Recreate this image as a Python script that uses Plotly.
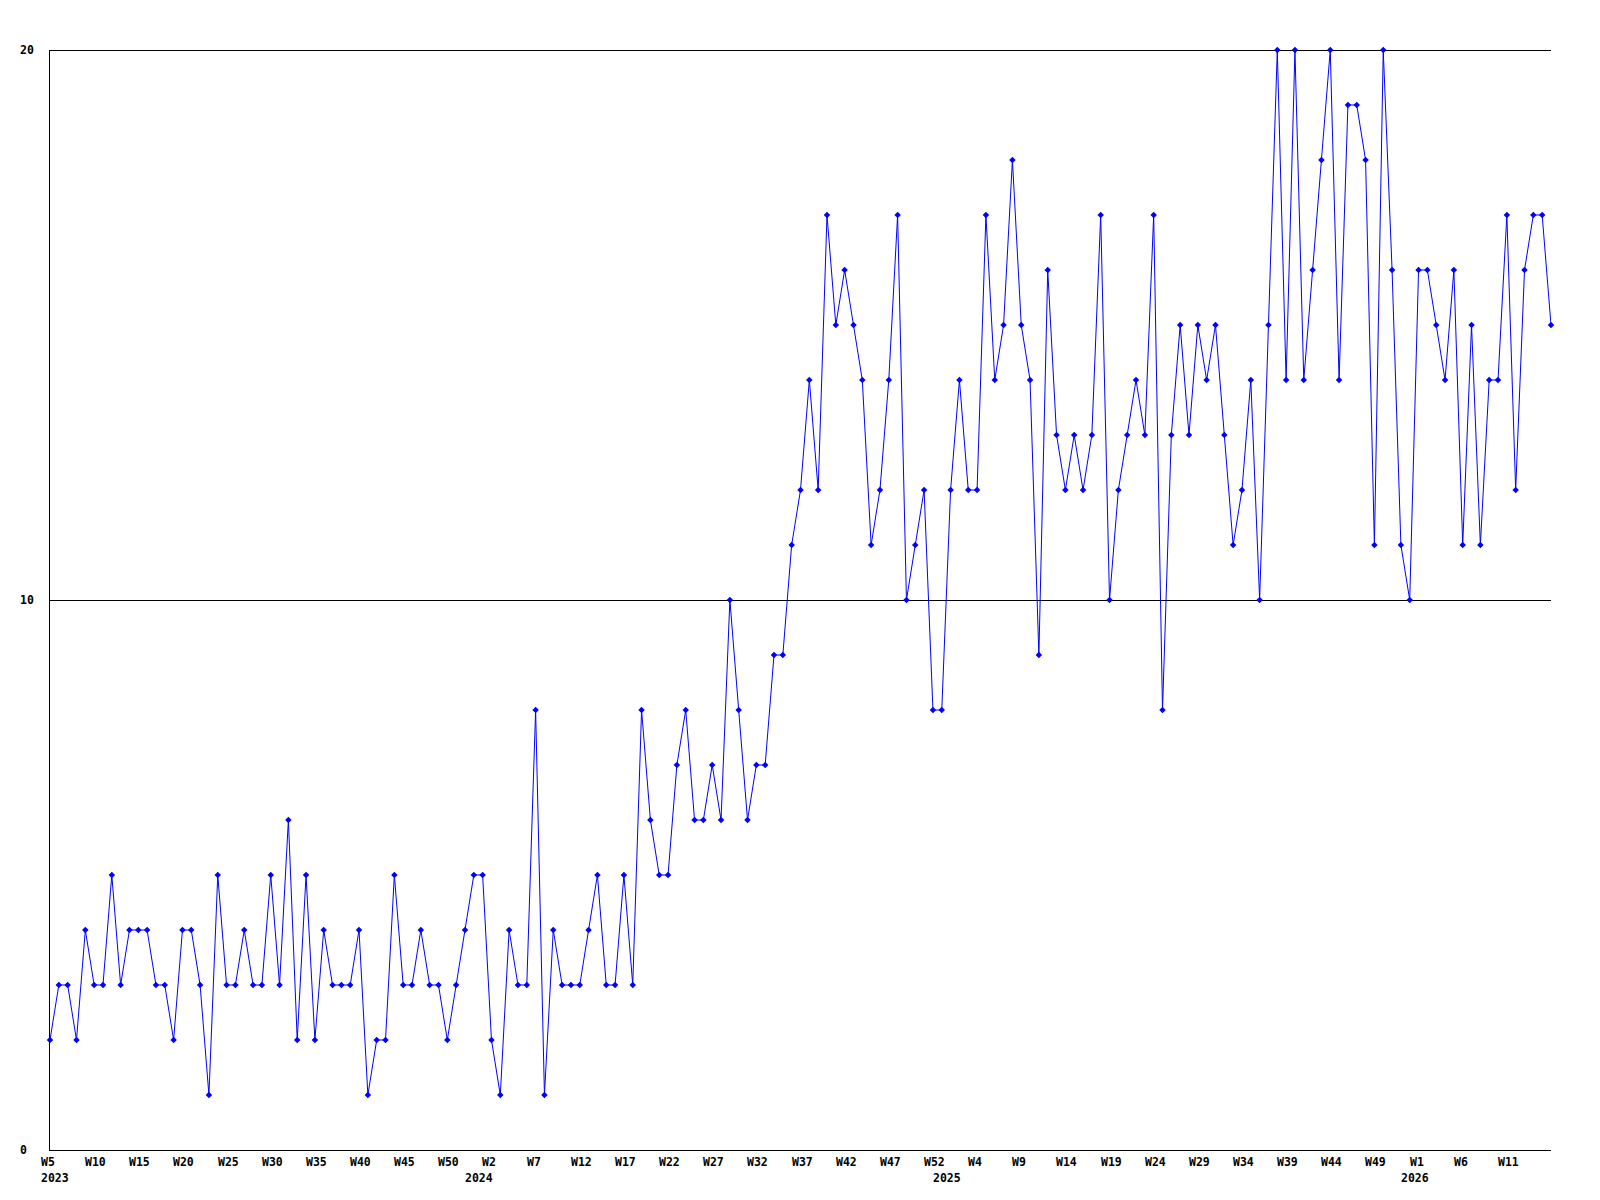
import plotly.graph_objects as go

# Weekly values, 2023 W5 .. 2026 W16 (one value per week)
values = [
    2, 3, 3, 2, 4, 3, 3, 5, 3, 4,
    4, 4, 3, 3, 2, 4, 4, 3, 1, 5,
    3, 3, 4, 3, 3, 5, 3, 6, 2, 5,
    2, 4, 3, 3, 3, 4, 1, 2, 2, 5,
    3, 3, 4, 3, 3, 2, 3, 4, 5, 5,
    2, 1, 4, 3, 3, 8, 1, 4, 3, 3,
    3, 4, 5, 3, 3, 5, 3, 8, 6, 5,
    5, 7, 8, 6, 6, 7, 6, 10, 8, 6,
    7, 7, 9, 9, 11, 12, 14, 12, 17, 15,
    16, 15, 14, 11, 12, 14, 17, 10, 11, 12,
    8, 8, 12, 14, 12, 12, 17, 14, 15, 18,
    15, 14, 9, 16, 13, 12, 13, 12, 13, 17,
    10, 12, 13, 14, 13, 17, 8, 13, 15, 13,
    15, 14, 15, 13, 11, 12, 14, 10, 15, 20,
    14, 20, 14, 16, 18, 20, 14, 19, 19, 18,
    11, 20, 16, 11, 10, 16, 16, 15, 14, 16,
    11, 15, 11, 14, 14, 17, 12, 16, 17, 17,
    15,
]

week_labels = [
    "W5", "W10", "W15", "W20", "W25", "W30", "W35", "W40", "W45", "W50",
    "W2", "W7", "W12", "W17", "W22", "W27", "W32", "W37", "W42", "W47", "W52",
    "W4", "W9", "W14", "W19", "W24", "W29", "W34", "W39", "W44", "W49",
    "W1", "W6", "W11",
]
week_label_step = 5

year_labels = ["2023", "2024", "2025", "2026"]
year_label_idx = [0, 48, 101, 154]

y_ticks = [0, 10, 20]

x = list(range(len(values)))

font = dict(family="DejaVu Sans Mono", size=11.5, color="black", weight="bold")

fig = go.Figure()
fig.add_trace(go.Scatter(
    x=x, y=values, mode="lines+markers",
    line=dict(color="#0000FF", width=1),
    marker=dict(symbol="diamond", size=5, color="#0000FF"),
    cliponaxis=False,
    hoverinfo="x+y",
))

annotations = []
for i, lab in enumerate(week_labels):
    annotations.append(dict(
        x=i * week_label_step, xref="x", y=0, yref="paper",
        text=lab, showarrow=False, xanchor="left", yanchor="top",
        xshift=-11, yshift=-3, font=font,
    ))
for idx, lab in zip(year_label_idx, year_labels):
    annotations.append(dict(
        x=idx, xref="x", y=0, yref="paper",
        text=lab, showarrow=False, xanchor="left", yanchor="top",
        xshift=-11, yshift=-19, font=font,
    ))
for v in y_ticks:
    annotations.append(dict(
        x=0, xref="paper", y=v, yref="y",
        text=str(v), showarrow=False, xanchor="left", yanchor="middle",
        xshift=-32, font=font,
    ))

# top edge line (plotly hides the gridline at the range end)
top = y_ticks[-1]
shapes = [
    dict(type="line", xref="paper", x0=0, x1=1, yref="y",
         ysizemode="pixel", yanchor=top, y0=-0.5, y1=-0.5,
         line=dict(color="black", width=1), layer="below")
]

fig.update_layout(
    width=1600, height=1200,
    margin=dict(l=50, r=49, t=50, b=50),
    paper_bgcolor="white", plot_bgcolor="white",
    showlegend=False,
    annotations=annotations,
    shapes=shapes,
    xaxis=dict(
        range=[0, len(values) - 1], showgrid=False, zeroline=False,
        showline=True, linecolor="black", linewidth=1,
        showticklabels=False, ticks="",
    ),
    yaxis=dict(
        range=[0, 20], tickvals=y_ticks, showgrid=True, gridcolor="black",
        gridwidth=1, zeroline=False, showline=True, linecolor="black",
        linewidth=1, showticklabels=False, ticks="",
    ),
)

fig.write_html("out.html", config={"displayModeBar": False},
               post_script="document.body.style.margin='0';")
